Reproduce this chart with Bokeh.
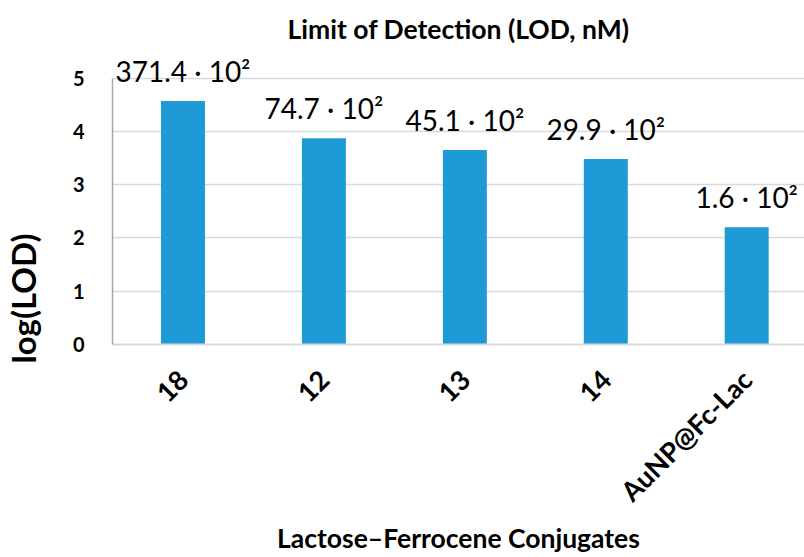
import math
from bokeh.plotting import figure
from bokeh.models import Range1d, FixedTicker, Title, LabelSet, ColumnDataSource
from bokeh.core.properties import value
from bokeh.embed import file_html
from bokeh.resources import INLINE

categories = ["18", "12", "13", "14", "AuNP@Fc-Lac"]
log_lod = [4.57, 3.87, 3.65, 3.48, 2.20]
lod_labels = ["371.4 · 10²", "74.7 · 10²", "45.1 · 10²", "29.9 · 10²", "1.6 · 10²"]
y_ticks = [0, 1, 2, 3, 4, 5]

positions = list(range(len(categories)))
src = ColumnDataSource(dict(x=positions, top=log_lod, label=lod_labels))

FONT = "Lato"
BLUE = "#1E9AD6"

p = figure(width=804, height=557, output_backend="svg", toolbar_location=None,
           x_range=Range1d(-0.5, 4.41), y_range=Range1d(0, 5.5),
           min_border_left=112, min_border_right=0, min_border_top=51,
           min_border_bottom=210)
p.outline_line_color = None
p.background_fill_color = "white"
p.border_fill_color = "white"

p.title.text = "Limit of Detection (LOD, nM)"
p.title.align = "center"
p.title.text_font = FONT
p.title.text_font_size = "26.5px"
p.title.text_font_style = "bold"
p.title.text_color = "black"
p.title.standoff = 14

p.vbar(x="x", top="top", width=0.312, source=src, fill_color=BLUE, line_color=None)

p.xgrid.visible = False
p.ygrid.grid_line_color = "#D9D9D9"
p.ygrid.grid_line_width = 1.5
p.ygrid.ticker = FixedTicker(ticks=y_ticks)

ya = p.yaxis[0]
ya.ticker = FixedTicker(ticks=y_ticks)
ya.bounds = (0, 5)
ya.major_tick_line_color = None
ya.minor_tick_line_color = None
ya.axis_line_color = "#A6A6A6"
ya.axis_line_width = 1.5
ya.major_label_text_font = FONT
ya.major_label_text_font_style = "bold"
ya.major_label_text_font_size = "20px"
ya.major_label_text_color = "black"
ya.major_label_standoff = 22

xa = p.xaxis[0]
xa.ticker = FixedTicker(ticks=positions)
xa.major_label_overrides = {i: c for i, c in zip(positions, categories)}
xa.major_label_orientation = math.pi / 4
xa.major_tick_line_color = None
xa.minor_tick_line_color = None
xa.axis_line_color = "#D9D9D9"
xa.axis_line_width = 2
xa.major_label_text_font = FONT
xa.major_label_text_font_style = "bold"
xa.major_label_text_font_size = "27px"
xa.major_label_text_color = "black"
xa.major_label_standoff = 24
xa.axis_label = "Lactose–Ferrocene Conjugates"
xa.axis_label_text_font = FONT
xa.axis_label_text_font_style = "bold"
xa.axis_label_text_font_size = "26.5px"
xa.axis_label_text_color = "black"
xa.axis_label_standoff = 0

labels = LabelSet(x="x", y="top", text="label", source=src, y_offset=19,
                  text_align="center", text_baseline="alphabetic",
                  text_font=value(FONT), text_font_size="28px", text_color="black")
p.add_layout(labels)

# spacer between the y tick labels and the y-axis title
spacer = Title(text=" ", standoff=20, text_font_size="1px")
p.add_layout(spacer, "left")

ytitle = Title(text="log(LOD)", align="left", offset=-19, standoff=4,
               vertical_align="top",
               text_font=FONT, text_font_style="bold", text_font_size="33px",
               text_color="black")
p.add_layout(ytitle, "left")

open("out.html", "w").write(file_html(p, INLINE))
